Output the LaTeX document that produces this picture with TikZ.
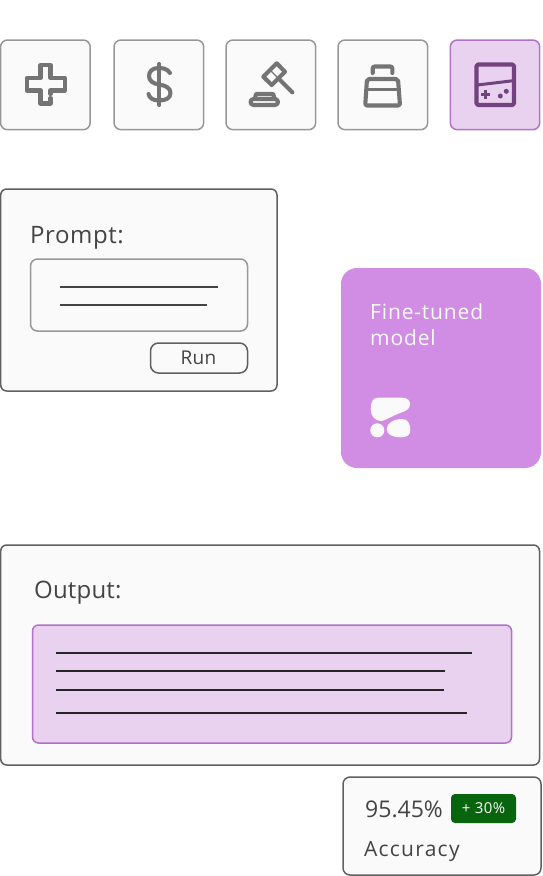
\documentclass[tikz,border=0pt]{standalone}
\usepackage{fontspec}
\setmainfont{Open Sans}
\usepackage{xcolor}
\usetikzlibrary{arrows.meta, positioning, calc}
\definecolor{tilefill}{HTML}{FAFAFA}
\definecolor{tileedge}{HTML}{979797}
\definecolor{iconstroke}{HTML}{747474}
\definecolor{paneledge}{HTML}{606060}
\definecolor{lilacfill}{HTML}{E9D1F0}
\definecolor{lilacedge}{HTML}{B273C6}
\definecolor{lilacicon}{HTML}{73437F}
\definecolor{modelfill}{HTML}{D18DE3}
\definecolor{badgefill}{HTML}{08650E}
\definecolor{inktext}{HTML}{444444}
\newcommand{\labelfont}[2][0]{\fontsize{#2}{#2}\selectfont\addfontfeatures{LetterSpace=#1}}
\begin{document}
\begin{tikzpicture}[x=1pt, y=-1pt,
	tile/.style={draw=tileedge, line width=1.5pt, rounded corners=7pt, fill=tilefill},
	panel/.style={draw=paneledge, line width=1.5pt, rounded corners=6pt, fill=tilefill},
	icon/.style={draw=iconstroke, line width=4.1pt, line join=round, line cap=round},
	rule/.style={draw=#1, line width=1.8pt},
	caption/.style={anchor=base west, inner sep=0pt, text=inktext}]
	\useasboundingbox (0,0) rectangle (542,876);
	\foreach \x in {0.5,114,226,338}{
		\draw[tile] (\x,40) rectangle (\x+89.7,129.7);
	}
	\draw[tile, draw=lilacedge, fill=lilacfill] (450.3,40) rectangle (539.7,129.7);
	% plus
	\draw[icon] (50.5,98) -- (50.5,103.5) -- (40.5,103.5) -- (40.5,90.5) -- (26.8,90.5) -- (26.8,78)
		-- (40.5,78) -- (40.5,65) -- (50.5,65) -- (50.5,78) -- (64.8,78) -- (64.8,90.5)
		-- (50.5,90.5) -- (50.5,94);
	% dollar
	\draw[icon] (159.3,64) -- (159.3,105);
	\draw[icon] (170,73) .. controls (167,68.5) and (163,68) .. (158,68)
		.. controls (152,68) and (149,72) .. (149,76)
		.. controls (149,81) and (153,83.5) .. (159,84.5)
		.. controls (166,85.5) and (170.5,88) .. (170.5,93)
		.. controls (170.5,98) and (166,100.5) .. (159,100.5)
		.. controls (153,100.5) and (149.5,98) .. (148.5,94);
	% gavel
	\draw[icon] (276.7,63.3) -- (285,71.7) -- (271.7,85) -- (263.3,76.7) -- cycle;
	\draw[icon, line width=1.4pt] (269.5,69.5) -- (278.7,78.7);
	\draw[icon] (280,80) -- (292.3,92.3);
	\draw[icon] (255,98) -- (256,94) -- (273,94) -- (274.5,98);
	\draw[icon, rounded corners=3pt] (250.5,99) rectangle (278,105);
	% bag
	\draw[icon, rounded corners=2pt] (372.7,73) -- (372.7,66.5) -- (392.3,66.5) -- (392.3,73);
	\draw[icon, rounded corners=2pt] (367,79) -- (398,79) -- (400,105.5) -- (365.2,105.5) -- cycle;
	\draw[icon, line width=2.6pt] (366,89.3) -- (399,89.3);
	% handheld
	\draw[icon, draw=lilacicon, rounded corners=1.5pt] (476.5,64.5) rectangle (514,105);
	\draw[icon, draw=lilacicon, line width=3pt] (477.3,85) -- (513.3,80.7);
	\draw[icon, draw=lilacicon, line width=3pt, line cap=butt] (481.3,94.3) -- (490.2,94.3);
	\draw[icon, draw=lilacicon, line width=3pt, line cap=butt] (485.7,90) -- (485.7,98.8);
	\fill[lilacicon] (500.3,96) circle (2.5) (506.3,91.3) circle (2.5);

	% prompt window
	\draw[panel] (0.7,189) rectangle (277,391);
	\node[caption, font={\labelfont[2.4]{24}}] (promptlabel) at (30,243) {Prompt:};
	\draw[panel, draw=tileedge, rounded corners=7pt] (30.5,259) rectangle (247.5,331);
	\draw[rule=inktext] (60,287) -- (218,287);
	\draw[rule=inktext] (60,305) -- (207,305);
	\draw[panel, rounded corners=8pt] (150.5,343) rectangle (247.5,373);
	\node[inner sep=0pt, text=inktext, font={\labelfont[2]{19}}] (runlabel) at (198.5,358) {Run};

	% model card
	\fill[modelfill, rounded corners=16pt] (341,268) rectangle (541,468);
	\node[caption, text=tilefill, font={\labelfont[4]{21}}] (modelname) at (370,319) {Fine-tuned};
	\node[caption, text=tilefill, font={\labelfont[4]{21}}] (modelname2) at (370,345) {model};
	\fill[tilefill] (378,397.7) -- (402,397.7) .. controls (408,397.7) and (410.5,401) .. (410,405)
		.. controls (409.5,409) and (406,411) .. (400,413)
		.. controls (394,415) and (388,419) .. (382,421)
		.. controls (375,421.5) and (370.7,416) .. (370.7,409)
		.. controls (370.7,402) and (373,397.7) .. (378,397.7) -- cycle;
	\fill[tilefill] (377.3,430.3) circle (7);
	\fill[tilefill] (386.7,429) .. controls (386.7,423) and (394,419) .. (402,419)
		.. controls (408,419) and (410.3,424) .. (410.3,430)
		.. controls (410.3,435) and (407,437.3) .. (401,437.3)
		.. controls (393,437.3) and (386.7,435) .. (386.7,429) -- cycle;

	% output window
	\draw[panel] (0.7,545) rectangle (539.5,765);
	\node[caption, font={\labelfont[0.8]{24}}] (outputlabel) at (34,598) {Output:};
	\draw[panel, draw=lilacedge, fill=lilacfill] (32.5,625) rectangle (511.5,743);
	\foreach \y/\e in {653/472, 671/445, 690/444, 713/467}{
		\draw[rule=black!85] (56,\y) -- (\e,\y);
	}

	% accuracy card
	\draw[panel, rounded corners=7pt] (343,777) rectangle (541,875);
	\node[caption, font={\labelfont{23}}] (scorelabel) at (365,817) {95.45\%};
	\fill[badgefill, rounded corners=4pt] (451,794) rectangle (516,823);
	\node[inner sep=0pt, text=tilefill, font={\labelfont[3]{15}}] (gainlabel) at (483.5,808.5) {+ 30\%};
	\node[caption, font={\labelfont[6]{21}}] (accuracylabel) at (364,856) {Accuracy};
\end{tikzpicture}
\end{document}
